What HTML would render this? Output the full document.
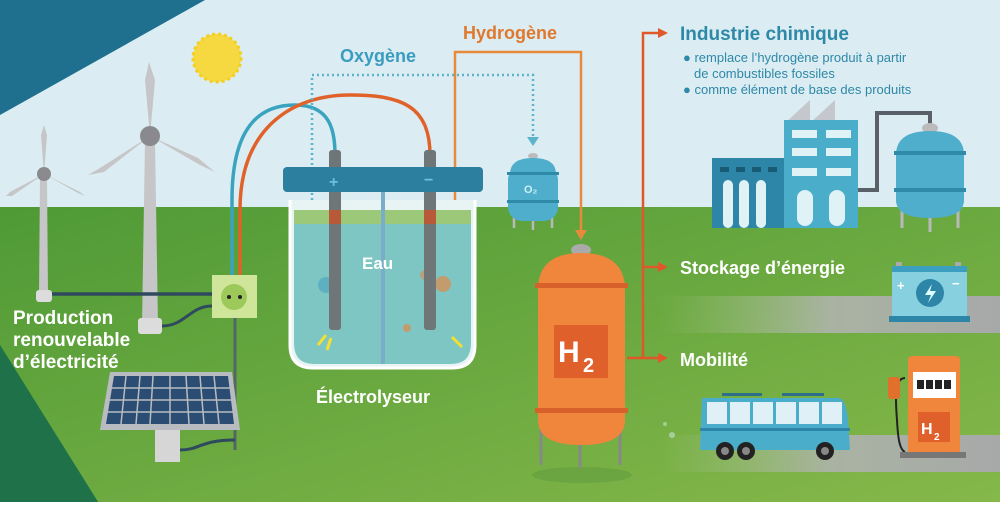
<!DOCTYPE html>
<html><head><meta charset="utf-8"><style>
html,body{margin:0;padding:0;width:1000px;height:505px;overflow:hidden;background:#fff}
svg{display:block}
text{font-family:"Liberation Sans",sans-serif;font-weight:bold}
</style></head><body>
<svg width="1000" height="505" viewBox="0 0 1000 505" xmlns="http://www.w3.org/2000/svg">
<defs>
<linearGradient id="g" x1="0" y1="0" x2="1" y2="1"><stop offset="0" stop-color="#4f9a36"/><stop offset="1" stop-color="#86b84a"/></linearGradient>
<linearGradient id="road" x1="0" x2="1"><stop offset="0" stop-color="#9fbf80" stop-opacity="0"/><stop offset="0.5" stop-color="#a9b3a2"/><stop offset="1" stop-color="#a7a9a9"/></linearGradient>
</defs>
<rect width="1000" height="505" fill="#dbedf2"/>
<rect y="207" width="1000" height="298" fill="url(#g)"/>
<polygon points="0,0 205,0 0,115" fill="#1f6f8e"/>
<polygon points="0,345 0,505 100,505" fill="#1e7148"/>
<rect y="502" width="1000" height="3" fill="#fff"/>
<!-- sun -->
<circle cx="217" cy="58" r="24" fill="#f6d840" stroke="#f3cf20" stroke-width="3" stroke-dasharray="3 3"/>
<!-- roads -->
<rect x="660" y="296" width="340" height="37" fill="url(#road)"/>
<rect x="660" y="435" width="340" height="37" fill="url(#road)"/>
<!-- windmills -->
<g fill="#c6c6c8">
<polygon points="40,178 47,178 48,295 39,295"/>
<rect x="36" y="290" width="16" height="12" rx="3" fill="#dcdcdc"/>
<polygon points="44,174 41,135 44,125 47,135" />
<polygon points="44,174 10,192 6,196 12,196"/>
<polygon points="44,174 80,192 85,196 78,193"/>
<polygon points="145,140 155,140 158,325 142,325"/>
<rect x="138" y="318" width="24" height="16" rx="3" fill="#dcdcdc"/>
<polygon points="150,136 145,80 149,62 155,80"/>
<polygon points="150,136 100,168 88,175 104,172"/>
<polygon points="150,136 200,165 215,172 198,158"/>
</g>
<circle cx="44" cy="174" r="7" fill="#8a8a8e"/>
<circle cx="150" cy="136" r="10" fill="#8a8a8e"/>
<!-- cables -->
<path d="M52,294 H212" stroke="#2e4a5c" stroke-width="3.5" fill="none"/>
<path d="M162,326 C185,326 190,306 212,306" stroke="#2e4a5c" stroke-width="3" fill="none"/>
<path d="M235,318 V450" stroke="#566" stroke-width="3" fill="none"/>
<path d="M180,450 C200,450 200,440 235,440" stroke="#2e4a5c" stroke-width="3" fill="none"/>
<path d="M232,275 V200 C232,120 265,105 295,105 C330,105 335,130 335,155" stroke="#3aa3c0" stroke-width="3.5" fill="none"/>
<path d="M240,275 V210 C240,130 290,95 350,95 C400,95 430,105 430,155" stroke="#e0622a" stroke-width="3.5" fill="none"/>
<!-- outlet -->
<rect x="212" y="275" width="45" height="43" fill="#cfe69a"/>
<circle cx="234" cy="297" r="13" fill="#9dc85a"/>
<circle cx="229" cy="297" r="2" fill="#222"/><circle cx="240" cy="297" r="2" fill="#222"/>
<!-- solar -->
<rect x="155" y="430" width="25" height="32" fill="#d6d6d6"/>
<polygon points="110,372 232,372 240,430 100,430" fill="#b8bcc0"/>
<polygon points="114,376 228,376 234,424 106,424" fill="#2b4d73"/>
<g stroke="#b8bcc0" stroke-width="1.5">
<line x1="110" y1="388" x2="231" y2="388"/><line x1="108" y1="400" x2="232" y2="400"/><line x1="107" y1="412" x2="233" y2="412"/>
<line x1="126" y1="376" x2="121" y2="424"/><line x1="140" y1="376" x2="136" y2="424"/><line x1="153" y1="376" x2="150" y2="424"/><line x1="170" y1="376" x2="170" y2="424"/><line x1="186" y1="376" x2="189" y2="424"/><line x1="200" y1="376" x2="204" y2="424"/><line x1="214" y1="376" x2="219" y2="424"/>
</g>
<!-- oxygen dotted -->
<path d="M312,200 V75 H533 V138" stroke="#5ab4cc" stroke-width="2.5" stroke-dasharray="2 3" fill="none"/>
<polygon points="527,137 539,137 533,146" fill="#5ab4cc"/>
<!-- hydrogen line -->
<path d="M455,210 V52 H581 V232" stroke="#e88a3c" stroke-width="2.5" fill="none"/>
<polygon points="575,230 587,230 581,240" fill="#e88a3c"/>
<!-- tank electrolyser -->
<path d="M290,200 V345 Q290,368 313,368 H452 Q475,368 475,345 V200" fill="#e8f4f4" stroke="#ffffff" stroke-width="3"/>
<path d="M294,210 V343 Q294,364 314,364 H451 Q471,364 471,343 V210 Z" fill="#7dc6c4"/>
<rect x="294" y="210" width="177" height="14" fill="#9cc87a"/>
<rect x="381" y="192" width="4" height="172" fill="#7aaec8"/>
<circle cx="326" cy="285" r="8" fill="#4aa2c0" opacity=".6"/>
<circle cx="443" cy="284" r="8" fill="#e08a48" opacity=".7"/>
<circle cx="425" cy="275" r="5" fill="#e08a48" opacity=".6"/>
<circle cx="407" cy="328" r="4" fill="#e08a48" opacity=".7"/>
<!-- electrodes -->
<rect x="329" y="150" width="12" height="180" rx="3" fill="#6f7678"/>
<rect x="424" y="150" width="12" height="180" rx="3" fill="#6f7678"/>
<rect x="329" y="210" width="12" height="14" fill="#b85a3a"/>
<rect x="424" y="210" width="12" height="14" fill="#b85a3a"/>
<rect x="283" y="167" width="200" height="25" rx="4" fill="#2d7fa0"/>
<text x="329" y="187" font-size="16" fill="#6cc0dc">+</text>
<text x="424" y="185" font-size="16" fill="#6cc0dc">−</text>
<path d="M318,345 l8,-10 M327,350 l4,-12 M452,337 l10,10" stroke="#f3e030" stroke-width="3"/>
<text x="362" y="269" font-size="17" fill="#fff">Eau</text>
<text x="316" y="403" font-size="18" fill="#fff">Électrolyseur</text>
<text x="340" y="62" font-size="18" fill="#3a9cc0">Oxygène</text>
<text x="463" y="39" font-size="18" fill="#e0782e">Hydrogène</text>
<!-- O2 tank -->
<g stroke="#b9b9b9" stroke-width="2.5"><line x1="514" y1="210" x2="514" y2="228"/><line x1="533" y1="210" x2="533" y2="230"/><line x1="552" y1="210" x2="552" y2="228"/></g>
<rect x="508" y="166" width="50" height="55" rx="14" fill="#4eaecb"/>
<ellipse cx="533" cy="156" rx="5" ry="3" fill="#bbb"/>
<path d="M510,174 Q510,158 533,158 Q556,158 556,174Z" fill="#4eaecb"/>
<rect x="507" y="172" width="52" height="3" fill="#2f8aa8"/><rect x="507" y="200" width="52" height="3" fill="#2f8aa8"/>
<text x="524" y="193" font-size="11" fill="#cdeff5">O₂</text>
<!-- H2 tank -->
<ellipse cx="582" cy="475" rx="50" ry="8" fill="#5d9a3e" opacity=".5"/>
<g stroke="#888" stroke-width="3"><line x1="541" y1="410" x2="541" y2="465"/><line x1="580" y1="410" x2="580" y2="468"/><line x1="620" y1="410" x2="620" y2="465"/></g>
<ellipse cx="581" cy="250" rx="10" ry="6" fill="#aaa"/>
<path d="M538,290 Q538,253 581,253 Q625,253 625,290 V420 Q625,445 581,445 Q538,445 538,420Z" fill="#f0853c"/>
<rect x="535" y="283" width="93" height="5" fill="#d8602a"/>
<rect x="535" y="408" width="93" height="5" fill="#d8602a"/>
<rect x="554" y="325" width="54" height="53" fill="#e0602c"/>
<text x="558" y="362" font-size="30" fill="#fff">H</text><text x="583" y="372" font-size="20" fill="#fff">2</text>
<!-- uses line -->
<path d="M643,358 V33 H660 M643,267 H660 M627,358 H660" stroke="#e0582a" stroke-width="2.5" fill="none"/>
<polygon points="658,28 668,33 658,38" fill="#e0582a"/>
<polygon points="658,262 668,267 658,272" fill="#e0582a"/>
<polygon points="658,353 668,358 658,363" fill="#e0582a"/>
<text x="680" y="40" font-size="19" fill="#2e88a8">Industrie chimique</text>
<g font-size="13" fill="#2e88a8" style="font-weight:normal">
<text x="683" y="62" style="font-weight:normal">● remplace l’hydrogène produit à partir</text>
<text x="694" y="78" style="font-weight:normal">de combustibles fossiles</text>
<text x="683" y="94" style="font-weight:normal">● comme élément de base des produits</text>
</g>
<text x="680" y="274" font-size="18" fill="#fff">Stockage d’énergie</text>
<text x="680" y="366" font-size="18" fill="#fff">Mobilité</text>
<!-- factory -->
<polygon points="785,123 810,100 810,123" fill="#c4c8cc"/><polygon points="810,123 835,100 835,123" fill="#c4c8cc"/>
<rect x="712" y="158" width="72" height="70" fill="#2d86a8"/>
<rect x="784" y="120" width="74" height="108" fill="#4aaecb"/>
<g fill="#dff2f6"><rect x="792" y="130" width="25" height="8"/><rect x="826" y="130" width="25" height="8"/><rect x="792" y="148" width="25" height="8"/><rect x="826" y="148" width="25" height="8"/><rect x="792" y="168" width="25" height="8"/><rect x="826" y="168" width="25" height="8"/>
<rect x="797" y="190" width="16" height="36" rx="8"/><rect x="829" y="190" width="16" height="36" rx="8"/>
<rect x="723" y="180" width="10" height="48" rx="5"/><rect x="739" y="180" width="10" height="48" rx="5"/><rect x="756" y="180" width="10" height="48" rx="5"/></g>
<g fill="#1a5a72"><rect x="720" y="167" width="9" height="5"/><rect x="736" y="167" width="9" height="5"/><rect x="752" y="167" width="9" height="5"/><rect x="768" y="167" width="9" height="5"/></g>
<path d="M858,190 H877 V113 H930 V125" stroke="#5a6068" stroke-width="4" fill="none"/>
<g stroke="#b9b9b9" stroke-width="3"><line x1="902" y1="210" x2="902" y2="228"/><line x1="930" y1="210" x2="930" y2="232"/><line x1="958" y1="210" x2="958" y2="228"/></g>
<ellipse cx="930" cy="128" rx="8" ry="5" fill="#bbb"/>
<path d="M896,155 Q896,131 930,131 Q964,131 964,155 V200 Q964,218 930,218 Q896,218 896,200Z" fill="#4eaecb"/>
<rect x="894" y="151" width="72" height="4" fill="#2f8aa8"/><rect x="894" y="188" width="72" height="4" fill="#2f8aa8"/>
<!-- battery -->
<rect x="896" y="262" width="6" height="5" fill="#aaa"/><rect x="955" y="262" width="6" height="5" fill="#aaa"/>
<rect x="892" y="266" width="75" height="53" fill="#86d0e0"/>
<rect x="892" y="266" width="75" height="6" fill="#3d9fc0"/>
<rect x="889" y="316" width="81" height="6" fill="#2d86a8"/>
<circle cx="930" cy="293" r="14" fill="#2d86a8"/>
<path d="M932,284 L925,295 H931 L928,303 L936,291 H930Z" fill="#dff"/>
<text x="897" y="290" font-size="13" fill="#fff">+</text><text x="952" y="288" font-size="13" fill="#fff">−</text>
<!-- bus -->
<rect x="722" y="393" width="40" height="3" fill="#2d6f88"/><rect x="782" y="393" width="42" height="3" fill="#2d6f88"/>
<path d="M702,398 H838 Q846,398 848,420 L850,450 H700 Z" fill="#4aaecb"/>
<g fill="#dff1f6"><rect x="707" y="402" width="20" height="22"/><rect x="730" y="402" width="20" height="22"/><rect x="753" y="402" width="20" height="22"/><rect x="776" y="402" width="20" height="22"/><rect x="799" y="402" width="20" height="22"/><rect x="822" y="402" width="20" height="22"/></g>
<rect x="700" y="428" width="150" height="3" fill="#2d86a8"/>
<g fill="#222"><circle cx="725" cy="451" r="9"/><circle cx="746" cy="451" r="9"/><circle cx="825" cy="451" r="9"/></g>
<g fill="#888"><circle cx="725" cy="451" r="4"/><circle cx="746" cy="451" r="4"/><circle cx="825" cy="451" r="4"/></g>
<circle cx="672" cy="435" r="3" fill="#b6dcc0" opacity=".7"/><circle cx="665" cy="424" r="2" fill="#b6dcc0" opacity=".7"/>
<!-- pump -->
<path d="M905,378 C895,378 895,395 897,420 C898,440 900,450 905,452" stroke="#222" stroke-width="2" fill="none"/>
<rect x="888" y="377" width="12" height="22" rx="3" fill="#e0702c"/>
<rect x="908" y="356" width="52" height="99" rx="4" fill="#f0853c"/>
<rect x="913" y="372" width="43" height="26" fill="#fff"/>
<g fill="#222"><rect x="917" y="380" width="7" height="9"/><rect x="926" y="380" width="7" height="9"/><rect x="935" y="380" width="7" height="9"/><rect x="944" y="380" width="7" height="9"/></g>
<rect x="918" y="412" width="32" height="30" fill="#e0602c"/>
<text x="921" y="434" font-size="16" fill="#fff">H</text><text x="934" y="440" font-size="10" fill="#fff">2</text>
<rect x="900" y="452" width="66" height="6" fill="#777"/>
<!-- production text -->
<g font-size="19" fill="#fff"><text x="13" y="324">Production</text><text x="13" y="346">renouvelable</text><text x="13" y="368">d’électricité</text></g>
</svg>
</body></html>
